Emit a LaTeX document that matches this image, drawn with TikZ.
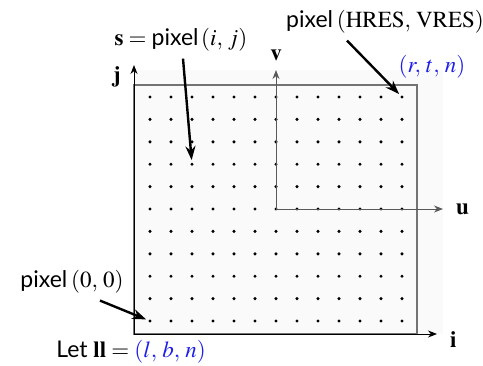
\documentclass[tikz,border=0pt]{standalone}
\usepackage{amsmath}
\usepackage{mathptmx}
\usepackage[no-math]{fontspec}
\setsansfont{Lato}
\usetikzlibrary{positioning, arrows.meta}
\definecolor{ptblue}{RGB}{30,30,235}
\tikzset{
    callout/.style={-{Stealth[length=7pt, width=5pt]}, line width=1.2pt, shorten >=1pt},
    axis/.style={-{Stealth[length=4.5pt, width=3.5pt]}, line width=0.5pt},
    pixdot/.style={circle, fill=black, inner sep=0pt, minimum size=1.7pt},
}

\begin{document}
\begin{tikzpicture}[x=0.5pt, y=-0.5pt, font=\fontsize{11.5}{13}\selectfont]
    \useasboundingbox (0,0) rectangle (483,365);

    % screen window
    \fill[black!2] (134,70) rectangle (443,334);
    \draw[black!55, line width=0.6pt] (134,85) rectangle (417,334);

    % pixel centres
    \foreach \c in {0,...,12}
        \foreach \r in {0,...,10}
            \node[pixdot] (d-\c-\r) at ({150+21*\c}, {321-22.4*\r}) {};

    % image axes i, j
    \coordinate (o) at (134,334);
    \draw[axis] (o) -- (134,65) node[pos=1, left=3pt, yshift=-6pt] (jlab) {$\mathbf{j}$};
    \draw[axis] (o) -- (437,334) node[pos=1, right=3pt, yshift=-3pt] (ilab) {$\mathbf{i}$};

    % camera axes u, v
    \draw[axis, black!65] (d-6-5.center) -- (276,70) node[pos=1, above=1pt, text=black] (vlab) {$\mathbf{v}$};
    \draw[axis, black!65] (d-6-5.center) -- (443,209) node[pos=1, right=3pt, text=black] (ulab) {$\mathbf{u}$};

    % labels
    \node (slab) at (181,40) {$\mathbf{s} = \mbox{\sffamily pixel}\,(i,\,j)$};
    \node (hres) at (385,22) {\sffamily pixel\,$(\mathrm{HRES},\,\mathrm{VRES})$};
    \node[text=ptblue] (rtn) at (432,67) {$(r,\,t,\,n)$};
    \node (zero) at (72,282) {\sffamily pixel\,$(0,\,0)$};
    \node (llab) at (131,352) {\sffamily Let $\mathbf{ll} = {\color{ptblue}(l,\,b,\,n)}$};

    % pointers
    \draw[callout] ([xshift=1pt]slab.south) -- (d-2-7);
    \draw[callout] ([xshift=-19pt]hres.south) -- (d-12-10);
    \draw[callout] ([xshift=14pt]zero.south) -- (d-0-0);
\end{tikzpicture}
\end{document}
